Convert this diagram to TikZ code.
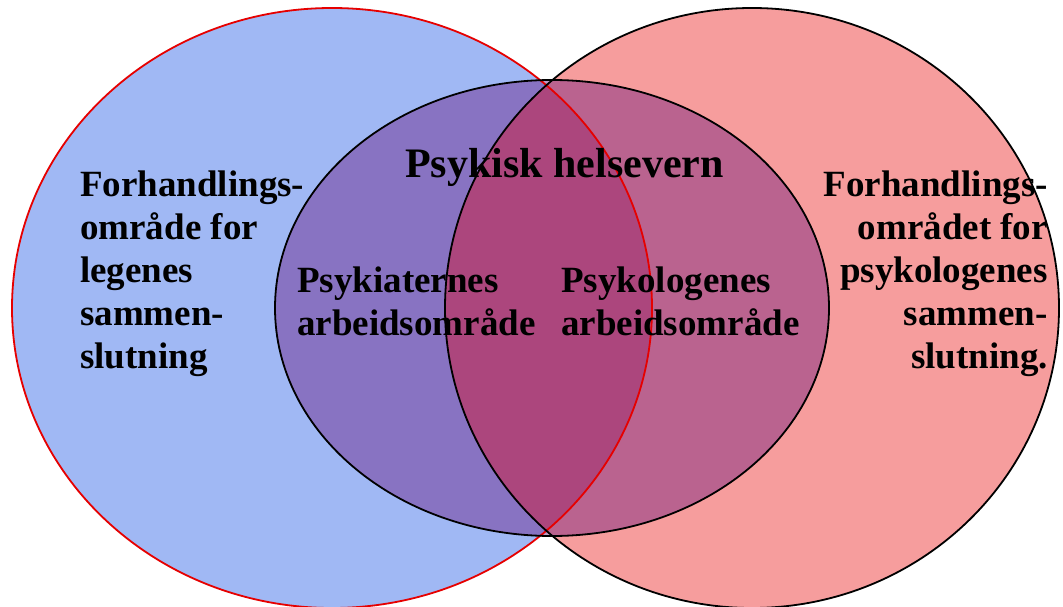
\documentclass[tikz,border=0pt]{standalone}
\usepackage{fontspec}
\setmainfont{Liberation Serif}
\definecolor{leftfill}{RGB}{160,184,244}
\definecolor{rightfill}{RGB}{245,140,140}
\definecolor{lensfill}{RGB}{200,20,60}
\definecolor{midfill}{RGB}{105,20,125}
\definecolor{ringred}{RGB}{230,0,0}
\begin{document}
\begin{tikzpicture}[x=1pt,y=-1pt,
  lbl/.style={inner sep=0pt, font=\bfseries\fontsize{37}{43}\selectfont},
  title/.style={inner sep=0pt, font=\bfseries\fontsize{42}{48}\selectfont},
  ring/.style={line width=1.8pt}]
\useasboundingbox (0,0) rectangle (1063,607);
\fill[white] (0,0) rectangle (1063,607);
% the three areas
\fill[leftfill] (332,308) ellipse [x radius=320, y radius=300];
\fill[rightfill, fill opacity=0.85] (752,308) ellipse [x radius=307, y radius=300];
% deeper tint where the two large areas overlap
\begin{scope}
  \clip (332,308) ellipse [x radius=320, y radius=300];
  \fill[lensfill, fill opacity=0.3] (752,308) ellipse [x radius=307, y radius=300];
\end{scope}
\fill[midfill, fill opacity=0.42] (552,308) ellipse [x radius=277, y radius=228];
% outlines
\draw[ring, ringred] (332,308) ellipse [x radius=320, y radius=300];
\draw[ring, black] (752,308) ellipse [x radius=307, y radius=300];
\draw[ring, black] (552,308) ellipse [x radius=277, y radius=228];
% labels (multi-line nodes sit on the baseline of their last line)
\node[title, anchor=base west] (t) at (405,178) {Psykisk helsevern};
\node[lbl, anchor=base west, align=left] (l) at (80,368)
  {Forhandlings-\\område for\\legenes\\sammen-\\slutning};
\node[lbl, anchor=base east, align=right] (r) at (1048,368)
  {Forhandlings-\\området for\\psykologenes\\sammen-\\slutning.};
\node[lbl, anchor=base west, align=left] (pa) at (297,335)
  {Psykiaternes\\arbeidsområde};
\node[lbl, anchor=base west, align=left] (pb) at (561,335)
  {Psykologenes\\arbeidsområde};
\end{tikzpicture}
\end{document}
